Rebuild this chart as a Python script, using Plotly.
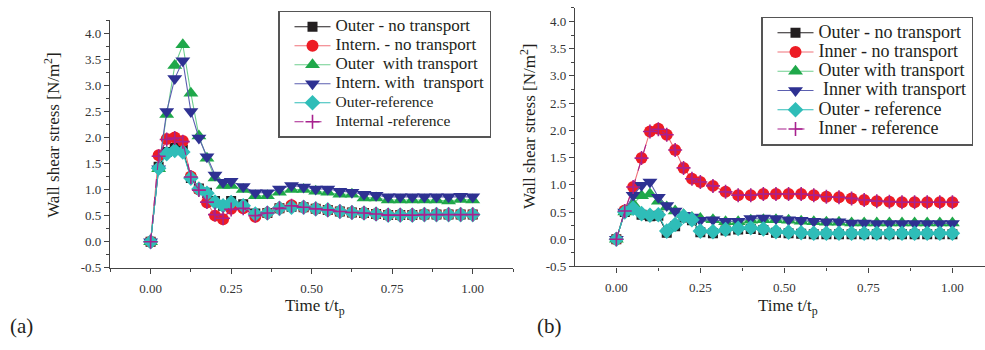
import plotly.graph_objects as go

# Sample times (t/t_p)
time = [0.0, 0.025, 0.05, 0.075, 0.1, 0.125, 0.15, 0.175, 0.2, 0.225, 0.25,
        0.2875, 0.325, 0.3625, 0.4, 0.4375, 0.475, 0.5125, 0.55, 0.5875, 0.625,
        0.6625, 0.7, 0.7375, 0.775, 0.8125, 0.85, 0.8875, 0.925, 0.9625, 1.0]

# Panel (a) wall shear stress [N/m^2]
a_outer_no = [0, 1.44, 1.72, 1.80, 1.77, 1.22, 1.02, 0.94, 0.78, 0.69, 0.78, 0.72, 0.54, 0.55, 0.64, 0.67,
              0.66, 0.63, 0.61, 0.58, 0.56, 0.55, 0.53, 0.51, 0.51, 0.51, 0.52, 0.52, 0.52, 0.52, 0.52]
a_inner_no = [0, 1.66, 1.97, 2.00, 1.93, 1.25, 1.00, 0.75, 0.50, 0.43, 0.63, 0.64, 0.48, 0.55, 0.64, 0.70,
              0.66, 0.63, 0.61, 0.58, 0.56, 0.55, 0.53, 0.51, 0.51, 0.51, 0.52, 0.52, 0.52, 0.52, 0.52]
a_outer_tr = [0, 1.40, 2.44, 3.38, 3.78, 2.85, 2.03, 1.60, 1.22, 1.08, 1.08, 1.00, 0.88, 0.88, 0.95, 1.00,
              1.00, 0.97, 0.95, 0.91, 0.91, 0.84, 0.84, 0.80, 0.80, 0.80, 0.80, 0.80, 0.78, 0.81, 0.80]
a_inner_tr = [0, 1.40, 2.50, 3.13, 3.47, 2.50, 1.99, 1.63, 1.28, 1.14, 1.16, 1.06, 0.94, 0.94, 1.01, 1.08,
              1.05, 1.01, 1.01, 0.97, 0.95, 0.91, 0.89, 0.86, 0.86, 0.86, 0.86, 0.86, 0.86, 0.87, 0.86]
a_outer_ref = [0, 1.41, 1.69, 1.75, 1.72, 1.22, 1.01, 0.93, 0.76, 0.69, 0.75, 0.69, 0.53, 0.55, 0.64, 0.66,
               0.66, 0.63, 0.61, 0.58, 0.56, 0.55, 0.53, 0.51, 0.51, 0.51, 0.52, 0.52, 0.52, 0.52, 0.52]
a_inner_ref = [0, 1.64, 1.96, 1.99, 1.92, 1.24, 0.99, 0.76, 0.52, 0.45, 0.62, 0.64, 0.50, 0.55, 0.64, 0.69,
               0.66, 0.63, 0.61, 0.58, 0.56, 0.55, 0.53, 0.51, 0.51, 0.51, 0.52, 0.52, 0.52, 0.52, 0.52]

# Panel (b) wall shear stress [N/m^2]
b_outer_no = [0, 0.50, 0.55, 0.45, 0.42, 0.43, 0.12, 0.24, 0.40, 0.35, 0.13, 0.11, 0.16, 0.18, 0.19, 0.17,
              0.12, 0.11, 0.10, 0.09, 0.09, 0.09, 0.09, 0.09, 0.09, 0.09, 0.09, 0.09, 0.09, 0.09, 0.09]
b_inner_no = [0, 0.53, 0.96, 1.49, 1.98, 2.03, 1.92, 1.64, 1.31, 1.11, 1.05, 0.98, 0.87, 0.81, 0.81, 0.83,
              0.83, 0.83, 0.83, 0.81, 0.78, 0.77, 0.75, 0.72, 0.70, 0.69, 0.68, 0.68, 0.68, 0.68, 0.68]
b_outer_tr = [0, 0.50, 0.65, 0.80, 0.83, 0.70, 0.59, 0.52, 0.45, 0.40, 0.38, 0.36, 0.32, 0.32, 0.35, 0.36,
              0.36, 0.35, 0.33, 0.32, 0.31, 0.31, 0.30, 0.30, 0.30, 0.30, 0.30, 0.30, 0.30, 0.30, 0.30]
b_inner_tr = [0, 0.50, 0.81, 0.99, 1.05, 0.77, 0.62, 0.52, 0.44, 0.41, 0.35, 0.36, 0.33, 0.33, 0.38, 0.39,
              0.38, 0.36, 0.35, 0.33, 0.32, 0.32, 0.30, 0.30, 0.29, 0.29, 0.29, 0.29, 0.29, 0.29, 0.29]
b_outer_ref = [0, 0.50, 0.57, 0.47, 0.44, 0.45, 0.15, 0.27, 0.42, 0.36, 0.15, 0.14, 0.18, 0.20, 0.21, 0.19,
               0.14, 0.13, 0.12, 0.11, 0.11, 0.11, 0.11, 0.11, 0.11, 0.11, 0.11, 0.11, 0.11, 0.11, 0.11]
b_inner_ref = [0, 0.52, 0.96, 1.49, 1.98, 2.02, 1.92, 1.64, 1.31, 1.11, 1.05, 0.98, 0.87, 0.81, 0.81, 0.83,
               0.83, 0.83, 0.83, 0.81, 0.78, 0.77, 0.75, 0.72, 0.70, 0.69, 0.68, 0.68, 0.68, 0.68, 0.68]

names_a = ["Outer - no transport", "Intern. - no transport", "Outer  with transport",
           "Intern. with  transport", "Outer-reference", "Internal -reference"]
names_b = ["Outer - no transport", "Inner - no transport", "Outer with transport",
           " Inner with transport", "Outer - reference", "Inner - reference"]

SERIF = "Liberation Serif, Times New Roman, serif"
styles = [
    dict(color="#231f20", line="#231f20", symbol="square", size=10, dash="solid"),
    dict(color="#ed1c24", line="#f0727a", symbol="circle", size=12, dash="solid"),
    dict(color="#1fa84a", line="#6fcf8f", symbol="triangle-up", size=13, dash="solid"),
    dict(color="#2e3192", line="#5b5fb0", symbol="triangle-down", size=13, dash="solid"),
    dict(color="#2fbdb8", line="#2fbdb8", symbol="diamond", size=12, dash="solid"),
    dict(color="#a8218e", line="#a8218e", symbol="cross-thin", size=10, dash="dash"),
]

fig = go.Figure()


def sized(text, px):
    return '<span style="font-size:%spx">%s</span>' % (px, text)


def add_panel(series, names, label_sizes, xa, ya, legend):
    for vals, name, px, st in zip(series, names, label_sizes, styles):
        marker = dict(symbol=st["symbol"], size=st["size"], color=st["color"], line=dict(width=0))
        if st["symbol"] == "cross-thin":
            marker["line"] = dict(width=1.6, color=st["color"])
        fig.add_trace(go.Scatter(
            x=time, y=vals, name=sized(name, px), mode="lines+markers",
            line=dict(color=st["line"], width=1.1, dash=st["dash"]),
            marker=marker, xaxis=xa, yaxis=ya, legend=legend,
        ))


add_panel([a_outer_no, a_inner_no, a_outer_tr, a_inner_tr, a_outer_ref, a_inner_ref],
          names_a, [17, 17, 17, 17, 15.5, 15.5], "x", "y", "legend")
add_panel([b_outer_no, b_inner_no, b_outer_tr, b_inner_tr, b_outer_ref, b_inner_ref],
          names_b, [18] * 6, "x2", "y2", "legend2")

W, H = 985, 350

axis_common = dict(
    showline=True, linecolor="#444", linewidth=1.3, showgrid=False, zeroline=False,
    ticks="outside", ticklen=5, tickwidth=1.1, tickcolor="#444",
    tickfont=dict(family=SERIF, size=13, color="#333"),
)
xticks = dict(tickvals=[0, 0.25, 0.5, 0.75, 1.0], ticktext=["0.00", "0.25", "0.50", "0.75", "1.00"],
              ticklabelstandoff=4,
              minor=dict(dtick=0.125, tick0=0, ticks="outside", ticklen=3, tickcolor="#444"))
yticks = dict(tickvals=[-0.5, 0, 0.5, 1, 1.5, 2, 2.5, 3, 3.5, 4],
              ticktext=["-0.5", "0.0", "0.5", "1.0", "1.5", "2.0", "2.5", "3.0", "3.5", "4.0"],
              minor=dict(dtick=0.25, tick0=0, ticks="outside", ticklen=3, tickcolor="#444"))

legend_common = dict(
    xanchor="left", yanchor="top", bgcolor="white", bordercolor="#555", borderwidth=1.5,
    tracegroupgap=0, itemwidth=36, indentation=10,
)

fig.update_layout(
    width=W, height=H, margin=dict(l=0, r=0, t=0, b=0),
    paper_bgcolor="white", plot_bgcolor="white",
    xaxis=dict(domain=[110 / W, 513 / W], range=[-0.126, 1.125], anchor="y", **axis_common, **xticks),
    yaxis=dict(domain=[1 - 274 / H, 1 - 20.7 / H], range=[-0.5, 4.25], anchor="x", **axis_common, **yticks),
    xaxis2=dict(domain=[575 / W, 1.0], range=[-0.123, 1.097], anchor="y2", **axis_common, **xticks),
    yaxis2=dict(domain=[1 - 272.7 / H, 1 - 8 / H], range=[-0.5, 4.25], anchor="x2", **axis_common, **yticks),
    legend=dict(x=278 / W, y=1 - 11 / H, font=dict(family=SERIF, size=12, color="#231f20"),
                **legend_common),
    legend2=dict(x=761 / W, y=1 - 17 / H, font=dict(family=SERIF, size=12.5, color="#231f20"),
                 **legend_common),
    showlegend=True,
)

title_font = dict(family=SERIF, size=17, color="#231f20")
annotations = [
    dict(text="Wall shear stress [N/m<sup>2</sup>]", x=52 / W, y=1 - 138 / H, textangle=-90),
    dict(text="Wall shear stress [N/m<sup>2</sup>]", x=528 / W, y=1 - 129 / H, textangle=-90),
    dict(text="Time t/t<sub>p</sub>", x=315 / W, y=1 - 314 / H),
    dict(text="Time t/t<sub>p</sub>", x=788 / W, y=1 - 314 / H),
]
for a in annotations:
    fig.add_annotation(xref="paper", yref="paper", showarrow=False, font=title_font,
                       xanchor="center", yanchor="middle", **a)
for label, xpx in [("(a)", 21), ("(b)", 549)]:
    fig.add_annotation(text=label, xref="paper", yref="paper", x=xpx / W, y=1 - 334 / H,
                       showarrow=False, xanchor="center", yanchor="middle",
                       font=dict(family=SERIF, size=21, color="#231f20"))

fig.write_html("out.html")
